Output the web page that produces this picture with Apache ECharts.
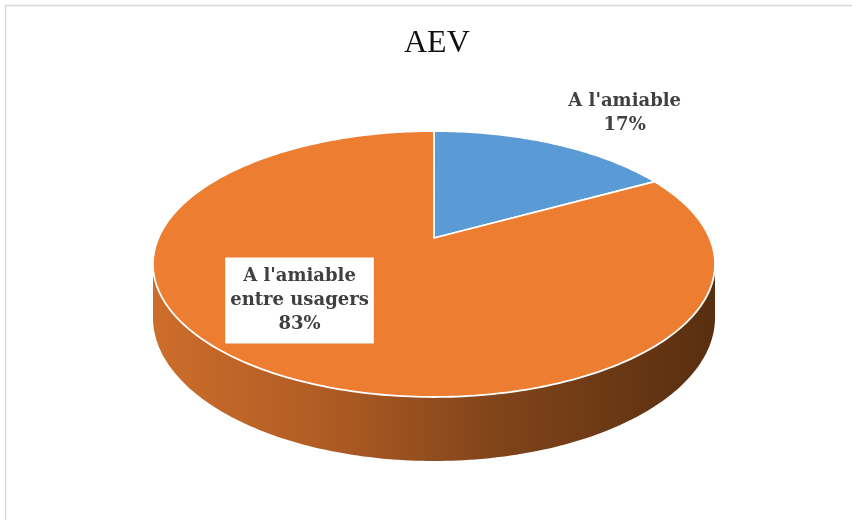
<!DOCTYPE html>
<html>
<head>
<meta charset="utf-8">
<title>AEV</title>
<script src="https://cdn.jsdelivr.net/npm/echarts@6/dist/echarts.min.js"></script>
<style>
  html, body { margin: 0; padding: 0; background: #fff; }
  #chart { width: 852px; height: 520px; }
</style>
</head>
<body>
<div id="chart"></div>
<script>
// Chart data
const title = 'AEV';
const categories = ["A l'amiable", "A l'amiable\nentre usagers"];
const values = [17, 83];
const colors = ['#5b9bd5', '#ed7d31'];

// 3D pie geometry (perspective projection of a disc)
const GEO = { cx: 434, cy: 238, a: 275.6, b: 127.9, k: 0.1955, depth: 51.5 };
// Label anchors in the pie plane: radius factor and angle shift from slice middle
const LABEL_POS = [
  { r: 1.48, shift: 4.7, box: false },
  { r: 0.63, shift: 14.4, box: true }
];

const total = values.reduce((s, v) => s + v, 0);
const starts = [];
values.reduce((acc, v) => { starts.push(acc); return acc + v; }, 0);

function proj(r, deg, drop) {
  const t = deg * Math.PI / 180;
  const u = r * Math.sin(t), v = r * Math.cos(t);
  const w = 1 + GEO.k * v;
  return [GEO.cx + GEO.a * u / w, GEO.cy - GEO.b * v / w + (drop || 0) / w];
}

function arc(a0, a1, drop) {
  const pts = [];
  const n = Math.max(2, Math.ceil(Math.abs(a1 - a0)));
  for (let i = 0; i <= n; i++) pts.push(proj(1, a0 + (a1 - a0) * i / n, drop));
  return pts;
}

// Front side is visible between the two silhouette angles
const sideFrom = Math.acos(-GEO.k) * 180 / Math.PI;
const sideTo = 360 - sideFrom;

function renderItem(params, api) {
  const i = params.dataIndex;
  const val = api.value(0);
  const a0 = starts[i] / total * 360;
  const a1 = (starts[i] + val) / total * 360;
  const children = [];

  const s0 = Math.max(a0, sideFrom), s1 = Math.min(a1, sideTo);
  if (s1 > s0) {
    const top = arc(s0, s1, 0);
    const bottom = arc(s1, s0, GEO.depth);
    children.push({
      type: 'polygon',
      z2: 1,
      shape: { points: top.concat(bottom) },
      style: {
        fill: {
          type: 'linear', x: 0, y: 0, x2: 1, y2: 0,
          colorStops: [
            { offset: 0, color: '#cd6d2b' },
            { offset: 0.3, color: '#b05c24' },
            { offset: 0.6, color: '#82451a' },
            { offset: 1, color: '#582e10' }
          ]
        },
        stroke: null
      }
    });
  }

  const face = [[GEO.cx, GEO.cy]].concat(arc(a0, a1, 0));
  children.push({
    type: 'polygon',
    z2: 5,
    shape: { points: face },
    style: { fill: colors[i], stroke: '#ffffff', lineWidth: 1.8, lineJoin: 'round' }
  });

  const lp = LABEL_POS[i];
  const p = proj(lp.r, (a0 + a1) / 2 + lp.shift, 0);
  const pct = Math.round(val / total * 100) + '%';
  const textStyle = {
    text: categories[i] + '\n' + pct,
    x: p[0], y: p[1],
    align: 'center', verticalAlign: 'middle',
    fill: '#404040',
    font: 'bold 18px "DejaVu Serif", serif',
    lineHeight: 24
  };
  if (lp.box) {
    textStyle.backgroundColor = '#ffffff';
    textStyle.padding = [7, 5, 7, 5];
  }
  children.push({ type: 'text', z2: 10, style: textStyle });

  return { type: 'group', children: children };
}

const chart = echarts.init(document.getElementById('chart'), null, { renderer: 'canvas' });
chart.setOption({
  backgroundColor: '#ffffff',
  animation: false,
  title: {
    text: title,
    left: 399,
    top: 23,
    textStyle: { fontFamily: '"Liberation Serif", serif', fontWeight: 'normal', fontSize: 32, color: '#111111' }
  },
  graphic: [{
    type: 'rect',
    shape: { x: 5.5, y: 5.5, width: 900, height: 600 },
    style: { fill: null, stroke: '#d9d9d9', lineWidth: 1.5 },
    silent: true
  }],
  series: [{
    type: 'custom',
    coordinateSystem: 'none',
    renderItem: renderItem,
    data: values.map((v, i) => ({ name: categories[i], value: [v] }))
  }]
});
</script>
</body>
</html>
